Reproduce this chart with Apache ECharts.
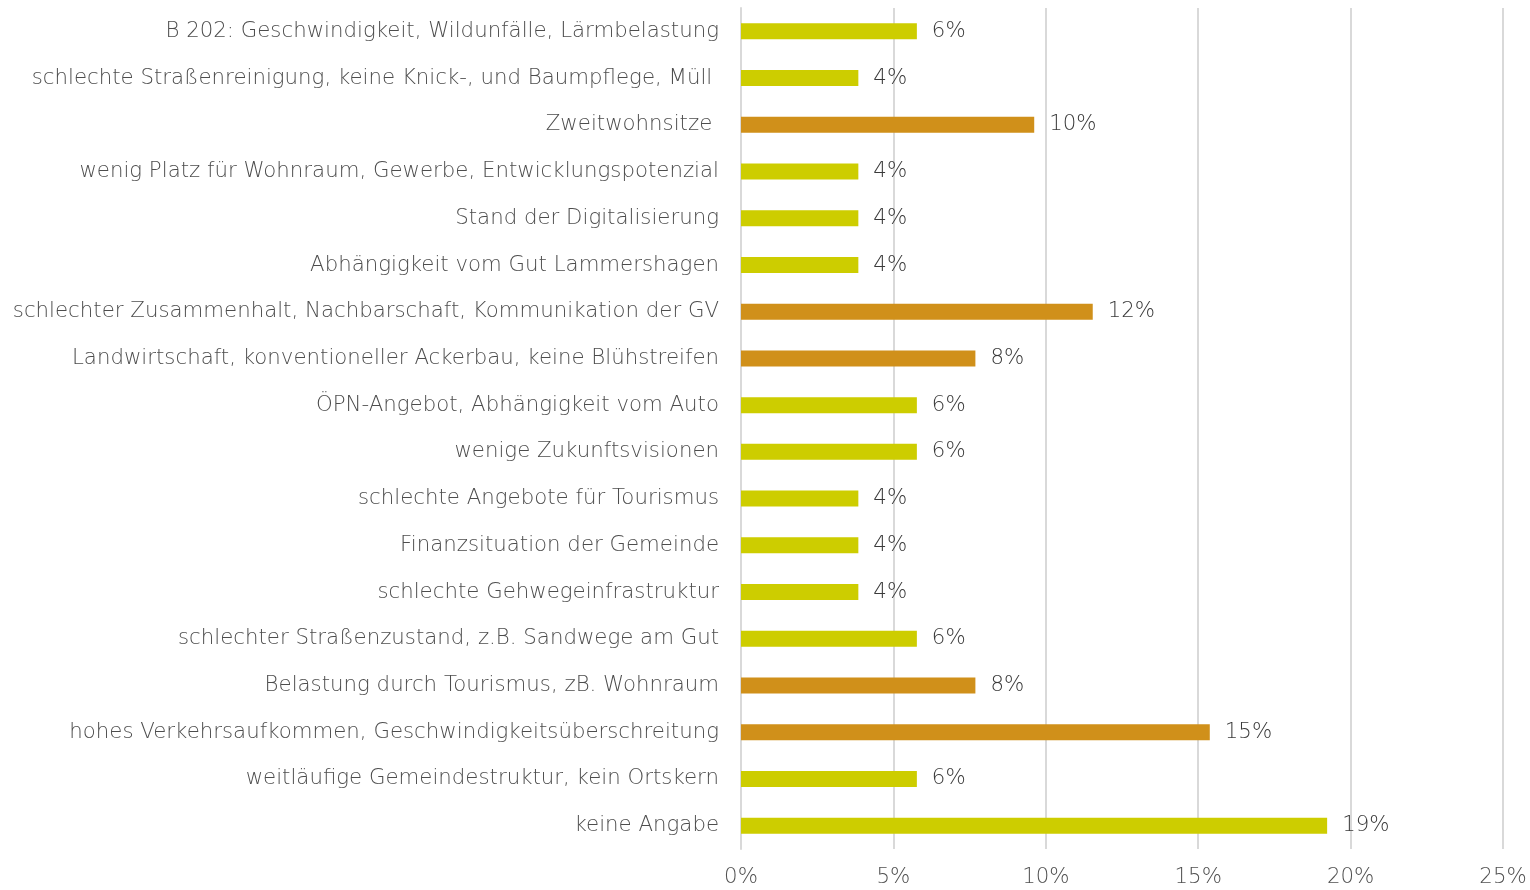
<!DOCTYPE html>
<html><head><meta charset="utf-8">
<script src="https://cdn.jsdelivr.net/npm/echarts@6/dist/echarts.min.js"></script>
<style>html,body{margin:0;padding:0;background:#fff}#c{width:1530px;height:890px}</style>
</head><body><div id="c"></div>
<script>
const categories = [
  "B 202: Geschwindigkeit, Wildunfälle, Lärmbelastung",
  "schlechte Straßenreinigung, keine Knick-, und Baumpflege, Müll ",
  "Zweitwohnsitze ",
  "wenig Platz für Wohnraum, Gewerbe, Entwicklungspotenzial",
  "Stand der Digitalisierung",
  "Abhängigkeit vom Gut Lammershagen",
  "schlechter Zusammenhalt, Nachbarschaft, Kommunikation der GV",
  "Landwirtschaft, konventioneller Ackerbau, keine Blühstreifen",
  "ÖPN-Angebot, Abhängigkeit vom Auto",
  "wenige Zukunftsvisionen",
  "schlechte Angebote für Tourismus",
  "Finanzsituation der Gemeinde",
  "schlechte Gehwegeinfrastruktur",
  "schlechter Straßenzustand, z.B. Sandwege am Gut",
  "Belastung durch Tourismus, zB. Wohnraum",
  "hohes Verkehrsaufkommen, Geschwindigkeitsüberschreitung",
  "weitläufige Gemeindestruktur, kein Ortskern",
  "keine Angabe"
];
const values = [5.77, 3.85, 9.62, 3.85, 3.85, 3.85, 11.54, 7.69, 5.77, 5.77, 3.85, 3.85, 3.85, 5.77, 7.69, 15.38, 5.77, 19.23];
const highlighted = [false, false, true, false, false, false, true, true, false, false, false, false, false, false, true, true, false, false];
const xTicks = [0, 5, 10, 15, 20, 25];
const YELLOW = '#CDCD00', ORANGE = '#D0901A';
const FONT = '"DejaVu Sans"';
const chart = echarts.init(document.getElementById('c'));
chart.setOption({
  animation: false,
  grid: { left: 741, right: 27, top: 8, bottom: 41, containLabel: false },
  xAxis: {
    type: 'value', min: xTicks[0], max: xTicks[xTicks.length - 1], interval: 5,
    axisLine: { show: false }, axisTick: { show: false },
    splitLine: { lineStyle: { color: '#D9D9D9', width: 2 } },
    axisLabel: { formatter: v => v + '%', color: '#505050', fontFamily: FONT, fontWeight: 200, fontSize: 21.3, margin: 18 }
  },
  yAxis: {
    type: 'category', data: categories, inverse: true,
    axisLine: { show: true, lineStyle: { color: '#D9D9D9', width: 2 } },
    axisTick: { show: false },
    axisLabel: { color: '#4d4d4d', fontFamily: FONT, fontWeight: 200, fontSize: 21.3, margin: 22 }
  },
  series: [{
    type: 'bar', barWidth: 16,
    data: values.map((v, i) => ({ value: v, itemStyle: { color: highlighted[i] ? ORANGE : YELLOW } })),
    label: { show: true, position: 'right', distance: 15, formatter: p => Math.round(p.value) + '%', color: '#3a3a3a', fontFamily: FONT, fontWeight: 200, fontSize: 21.3 }
  }]
});
</script></body></html>
